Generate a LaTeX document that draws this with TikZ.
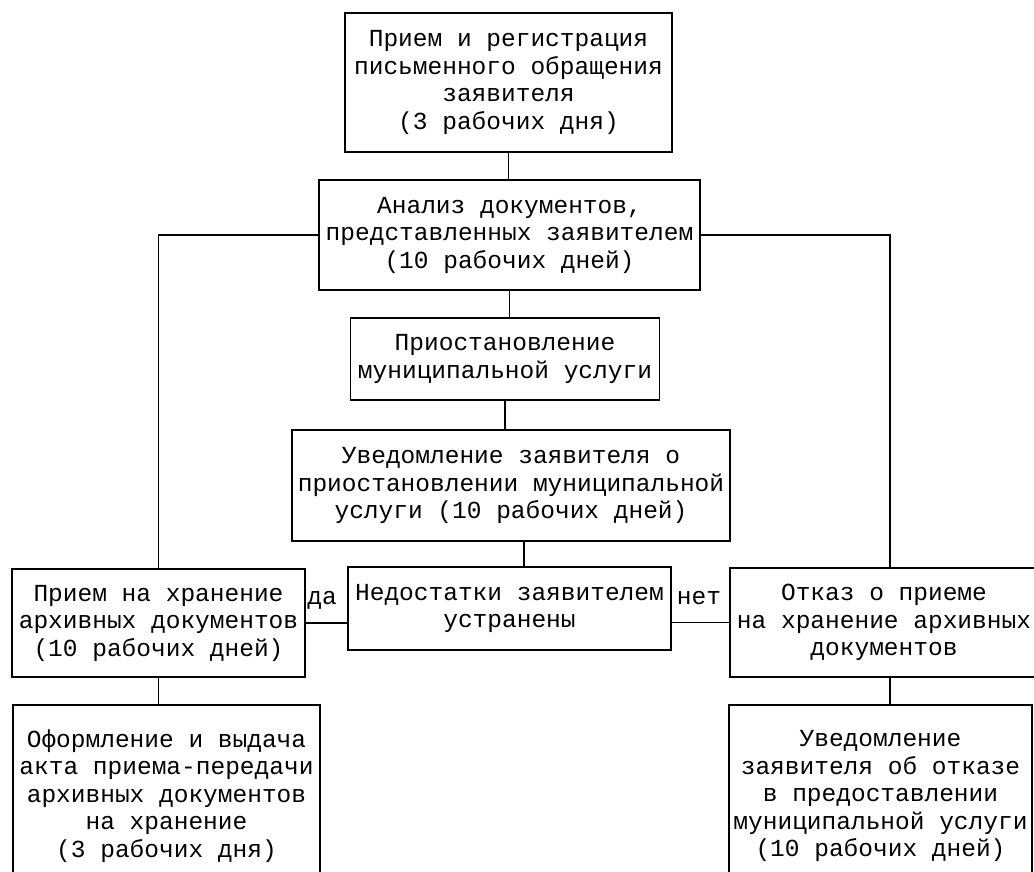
\documentclass[tikz,border=0pt]{standalone}
\usepackage{fontspec}
\setmonofont{Liberation Mono}

\tikzset{
    % Box styles - thin frames, typewriter text
    stage/.style={draw, line width=1.2pt, inner sep=0pt, align=center,
        font=\ttfamily\fontsize{24.5}{27.5}\selectfont},
    % Connector lines
    link/.style={line width=1.2pt},
    % Branch labels
    branch label/.style={inner sep=0pt, font=\ttfamily\fontsize{24.5}{27.5}\selectfont},
}

\begin{document}
\begin{tikzpicture}[x=1pt, y=-1pt]
    % Page
    \fill[white] (0,0) rectangle (1034,871);
    \useasboundingbox (0,0) rectangle (1034,871);

    % Main column
    \node[stage, minimum width=327, minimum height=139] (reg) at (508.5,82.5)
        {Прием и регистрация\\письменного обращения\\заявителя\\(3 рабочих дня)};
    \node[stage, minimum width=381, minimum height=110] (analiz) at (509.5,235)
        {Анализ документов,\\представленных заявителем\\(10 рабочих дней)};
    \node[stage, minimum width=309, minimum height=82] (pause) at (505,359)
        {Приостановление\\муниципальной услуги};
    \node[stage, minimum width=438, minimum height=111] (notice) at (511,485.5)
        {Уведомление заявителя о\\приостановлении муниципальной\\услуги (10 рабочих дней)};
    \node[stage, minimum width=323, minimum height=83] (fixed) at (509.5,608.5)
        {Недостатки заявителем\\устранены};

    % Left branch
    \node[stage, minimum width=293, minimum height=108] (accept) at (158.5,623)
        {Прием на хранение\\архивных документов\\(10 рабочих дней)};
    \node[stage, minimum width=307, minimum height=182] (issue) at (166.5,796)
        {Оформление и выдача\\акта приема-передачи\\архивных документов\\на хранение\\(3 рабочих дня)};

    % Right branch
    \node[stage, minimum width=308, minimum height=109] (refuse) at (884,622.5)
        {Отказ о приеме\\на хранение архивных\\документов};
    \node[stage, minimum width=303, minimum height=182] (notify) at (880.5,796)
        {Уведомление\\заявителя об отказе\\в предоставлении\\муниципальной услуги\\(10 рабочих дней)};

    % Labels
    \node[branch label] (lblyes) at (322,600) {да};
    \node[branch label] (lblno) at (699,598) {нет};

    % Connectors
    \draw[link] (reg.south) -- (reg.south |- analiz.north);
    \draw[link] (analiz.south) -- (analiz.south |- pause.north);
    \draw[link] (pause.south) -- (pause.south |- notice.north);
    \draw[link] ([xshift=13]notice.south) -- ([xshift=13]notice.south |- fixed.north);
    \draw[link] (analiz.west) -| (accept.north);
    \draw[link] (analiz.east) -| ([xshift=6]refuse.north);
    \draw[link] (accept.east) -- (accept.east -| fixed.west);
    \draw[link] (refuse.west -| fixed.east) -- (refuse.west);
    \draw[link] (accept.south) -- (accept.south |- issue.north);
    \draw[link] ([xshift=6]refuse.south) -- ([xshift=6]refuse.south |- notify.north);
\end{tikzpicture}
\end{document}
